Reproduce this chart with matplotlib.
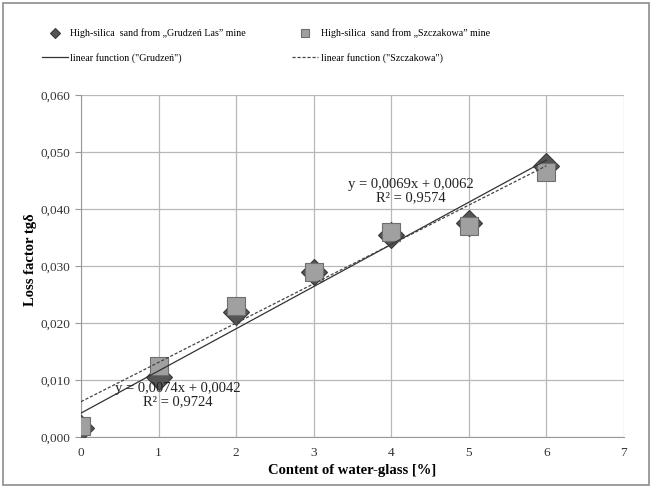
import numpy as np
import matplotlib
matplotlib.use("Agg")
import matplotlib.pyplot as plt
from matplotlib.ticker import FuncFormatter, MultipleLocator
from matplotlib.patches import Rectangle

# Data
water_glass = [0, 1, 2, 3, 4, 5, 6]
grudzen = [0.0015, 0.0105, 0.0220, 0.0290, 0.0355, 0.0375, 0.0475]
szczakowa = [0.0020, 0.0125, 0.0230, 0.0290, 0.0360, 0.0370, 0.0465]

# Trend lines as printed on the chart
grudzen_fit = (0.0074, 0.0042, 0.9724)
szczakowa_fit = (0.0069, 0.0062, 0.9574)

plt.rcParams['font.family'] = ['Liberation Serif', 'DejaVu Serif']

fig = plt.figure(figsize=(6.56, 4.88), dpi=100)
ax = fig.add_axes([0.1235, 0.1045, 0.8275, 0.7005])

# outer frame of the chart area
fig.patches.append(Rectangle((0.005, 0.006), 0.984, 0.988, transform=fig.transFigure,
                             fill=False, edgecolor='#8c8c8c', linewidth=1.2))

xs = np.array([0, 6])
def fmt(v):
    return f"{v:.4f}".replace('.', ',')

line_g, = ax.plot(xs, grudzen_fit[0] * xs + grudzen_fit[1], color='#333333', lw=0.9,
                  label='linear function ("Grudzeń")', zorder=4)
line_s, = ax.plot(xs, szczakowa_fit[0] * xs + szczakowa_fit[1], color='#444444', lw=0.9,
                  ls=(0, (2.5, 1.5)), label='linear function ("Szczakowa")', zorder=4)

pts_g, = ax.plot(water_glass, grudzen, ls='none', marker='D', ms=13, color='#555555',
                 mec='#3a3a3a', mew=0.8, label='High-silica  sand from \u201eGrudzeń Las\u201d mine', zorder=3)
pts_s, = ax.plot(water_glass, szczakowa, ls='none', marker='s', ms=13, color='#a0a0a0',
                 mec='#6e6e6e', mew=0.8, label='High-silica  sand from \u201eSzczakowa\u201d mine', zorder=3)

ax.text(1.25, 0.0074, f"y = {fmt(grudzen_fit[0])}x + {fmt(grudzen_fit[1])}\nR\u00b2 = {fmt(grudzen_fit[2])}",
        ha='center', va='center', fontsize=10.5, color='#222222', zorder=5, linespacing=1.0)
ax.text(4.25, 0.0432, f"y = {fmt(szczakowa_fit[0])}x + {fmt(szczakowa_fit[1])}\nR\u00b2 = {fmt(szczakowa_fit[2])}",
        ha='center', va='center', fontsize=10.5, color='#222222', zorder=5, linespacing=1.0)

ax.set_xlim(0, 7)
ax.set_ylim(0, 0.060)
ax.xaxis.set_major_locator(MultipleLocator(1))
ax.yaxis.set_major_locator(MultipleLocator(0.010))
ax.yaxis.set_major_formatter(FuncFormatter(lambda v, p: f"{v:.3f}".replace('.', ',')))
ax.grid(True, color='#b8b8b8', lw=0.9)
ax.set_axisbelow(True)
for side in ['top', 'right']:
    ax.spines[side].set_visible(False)
for side in ['left', 'bottom']:
    ax.spines[side].set_color('#999999')
ax.tick_params(axis='both', labelsize=9.5, colors='#999999', labelcolor='#333333', length=4)
ax.tick_params(axis='x', length=0, pad=7)

ax.set_xlabel('Content of water-glass [%]', fontsize=10.5, fontweight='bold', labelpad=4)
ax.set_ylabel('Loss factor tgδ', fontsize=10.5, fontweight='bold', labelpad=2)
ax.yaxis.set_label_coords(-0.082, 0.52)

fig.legend(handles=[pts_g, line_g, pts_s, line_s], ncol=2, loc='upper left',
           bbox_to_anchor=(0.05, 0.96), frameon=False, fontsize=7.2, handlelength=2.6,
           handletextpad=0.25, columnspacing=4.6, labelspacing=1.45, markerscale=0.4)

fig.savefig('out.png', dpi=100)
